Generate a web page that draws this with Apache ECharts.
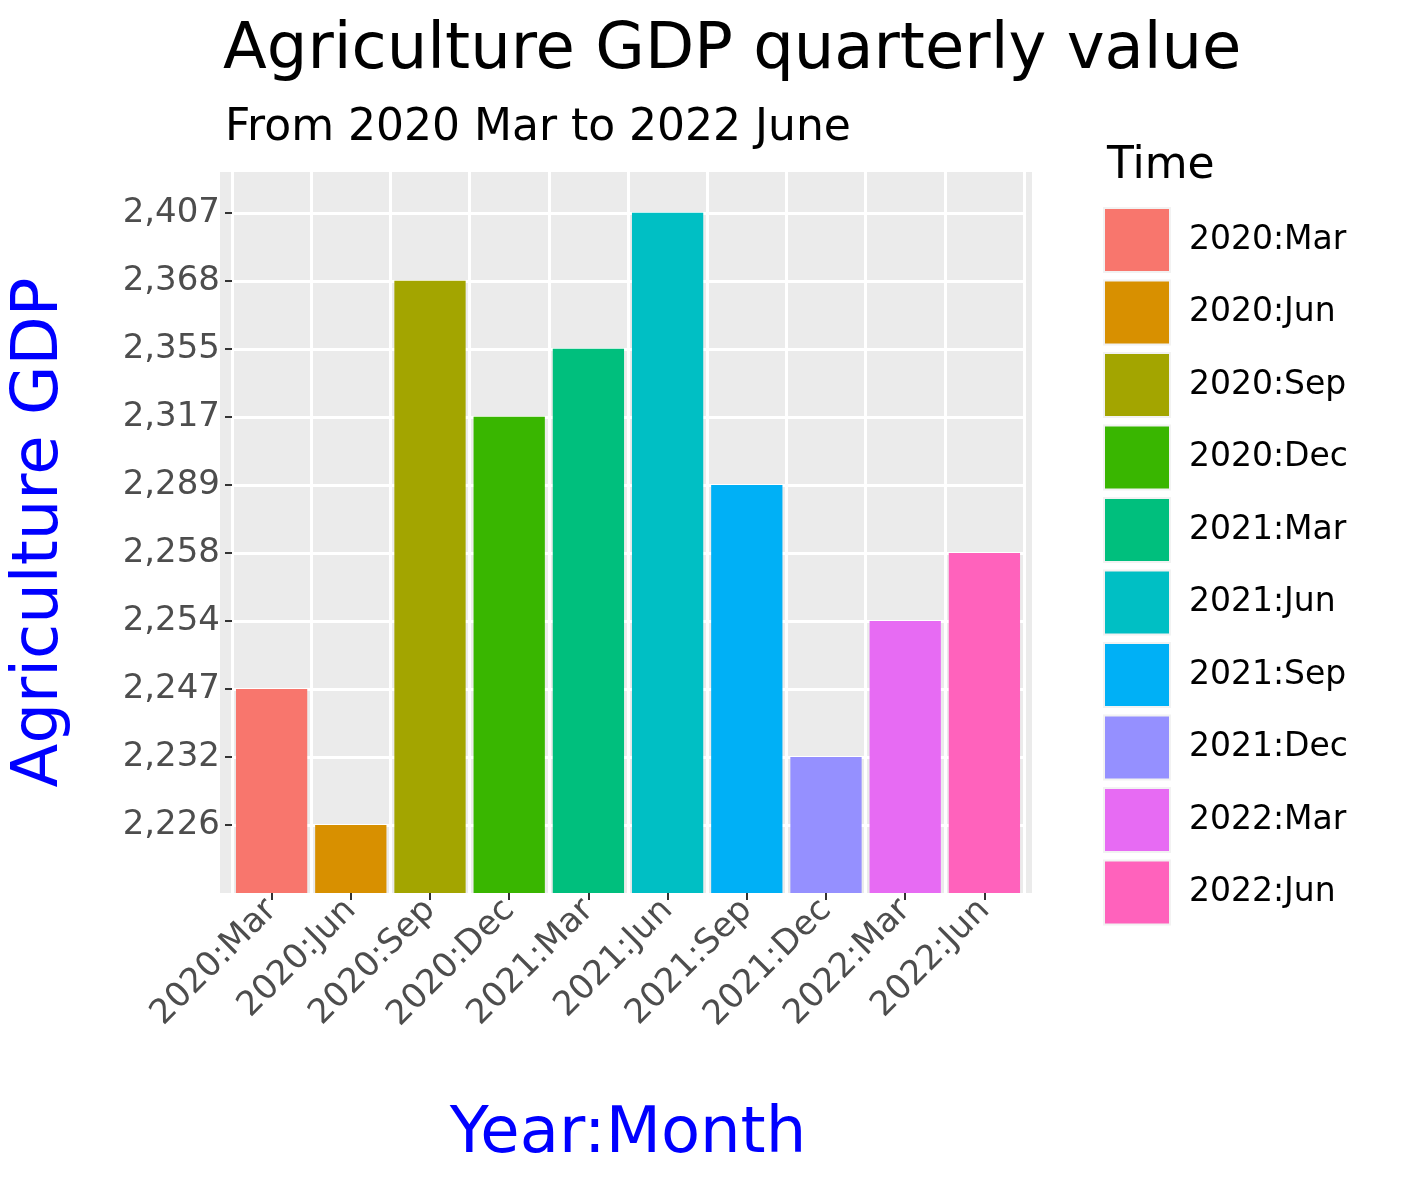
<!DOCTYPE html>
<html>
<head>
<meta charset="utf-8">
<script src="https://cdn.jsdelivr.net/npm/echarts@6/dist/echarts.min.js"></script>
<style>html,body{margin:0;background:#fff}#chart{width:1417px;height:1181px}</style>
</head>
<body>
<div id="chart"></div>
<script>
var categories = ['2020:Mar', '2020:Jun', '2020:Sep', '2020:Dec', '2021:Mar', '2021:Jun', '2021:Sep', '2021:Dec', '2022:Mar', '2022:Jun'];
var gdpValues = [2247, 2226, 2368, 2317, 2355, 2407, 2289, 2232, 2254, 2258];
var colors = ['#F8766D', '#D89000', '#A3A500', '#39B600', '#00BF7D', '#00BFC4', '#00B0F6', '#9590FF', '#E76BF3', '#FF62BC'];

// y axis is discrete in the original: each distinct value gets one evenly spaced level
var levels = gdpValues.slice().sort(function(a, b) { return a - b; });
var levelTicks = levels.map(function(v, i) { return i + 1; });
var fmt = function(v) { return v.toLocaleString('en-US'); };

var series = categories.map(function(name, i) {
	return {
		name : name,
		type : 'bar',
		stack : 'all',
		barCategoryGap : '10%',
		itemStyle : { color : colors[i] },
		data : categories.map(function(c, j) {
			return j === i ? levels.indexOf(gdpValues[i]) + 1 : null;
		})
	};
});

var chart = echarts.init(document.getElementById('chart'));
chart.setOption({
	animation : false,
	textStyle : { fontFamily : 'DejaVu Sans' },
	graphic : [ {
		type : 'rect', z : -10, silent : true,
		shape : { x : 220, y : 172, width : 812, height : 721 },
		style : { fill : '#ebebeb' }
	} ],
	title : [ {
		text : 'Agriculture GDP quarterly value',
		left : 218, top : 14,
		textStyle : { fontSize : 64, fontWeight : 'normal', color : '#000' }
	}, {
		text : 'From 2020 Mar to 2022 June',
		left : 220, top : 102,
		textStyle : { fontSize : 44, fontWeight : 'normal', color : '#000' }
	}, {
		text : 'Time',
		left : 1102, top : 140,
		textStyle : { fontSize : 44, fontWeight : 'normal', color : '#000' }
	} ],
	legend : {
		orient : 'vertical',
		left : 1098, top : 202,
		itemWidth : 66, itemHeight : 64, itemGap : 6.5,
		icon : 'rect',
		textStyle : { fontSize : 33, color : '#000', padding : [0, 0, 0, 14] },
		itemStyle : { borderColor : '#f2f2f2', borderWidth : 2 },
		data : categories
	},
	grid : { left : 228, right : 393, top : 172, bottom : 288, containLabel : false,
		show : false },
	xAxis : {
		type : 'category',
		data : categories,
		name : 'Year:Month',
		nameLocation : 'middle',
		nameGap : 210,
		nameTextStyle : { fontSize : 64, color : '#0000ff' },
		axisLine : { show : false },
		axisTick : { show : true, alignWithLabel : true, length : 7, lineStyle : { color : '#333', width : 2 } },
		axisLabel : { rotate : 45, fontSize : 34, color : '#4d4d4d', margin : 12, interval : 0 },
		splitLine : { show : true, lineStyle : { color : '#fff', width : 3 } }
	},
	yAxis : {
		type : 'value',
		min : 0, max : 10.6, interval : 1,
		name : 'Agriculture GDP',
		nameLocation : 'middle',
		nameGap : 160,
		nameTextStyle : { fontSize : 64, color : '#0000ff' },
		axisLine : { show : false },
		axisTick : { show : true, length : 7, customValues : levelTicks, lineStyle : { color : '#333', width : 2 } },
		axisLabel : { fontSize : 34, color : '#4d4d4d', margin : 12, customValues : levelTicks,
			formatter : function(v) { return fmt(levels[Math.round(v) - 1]); } },
		splitLine : { show : true, lineStyle : { color : '#fff', width : 3 } }
	},
	series : series
});
</script>
</body>
</html>
